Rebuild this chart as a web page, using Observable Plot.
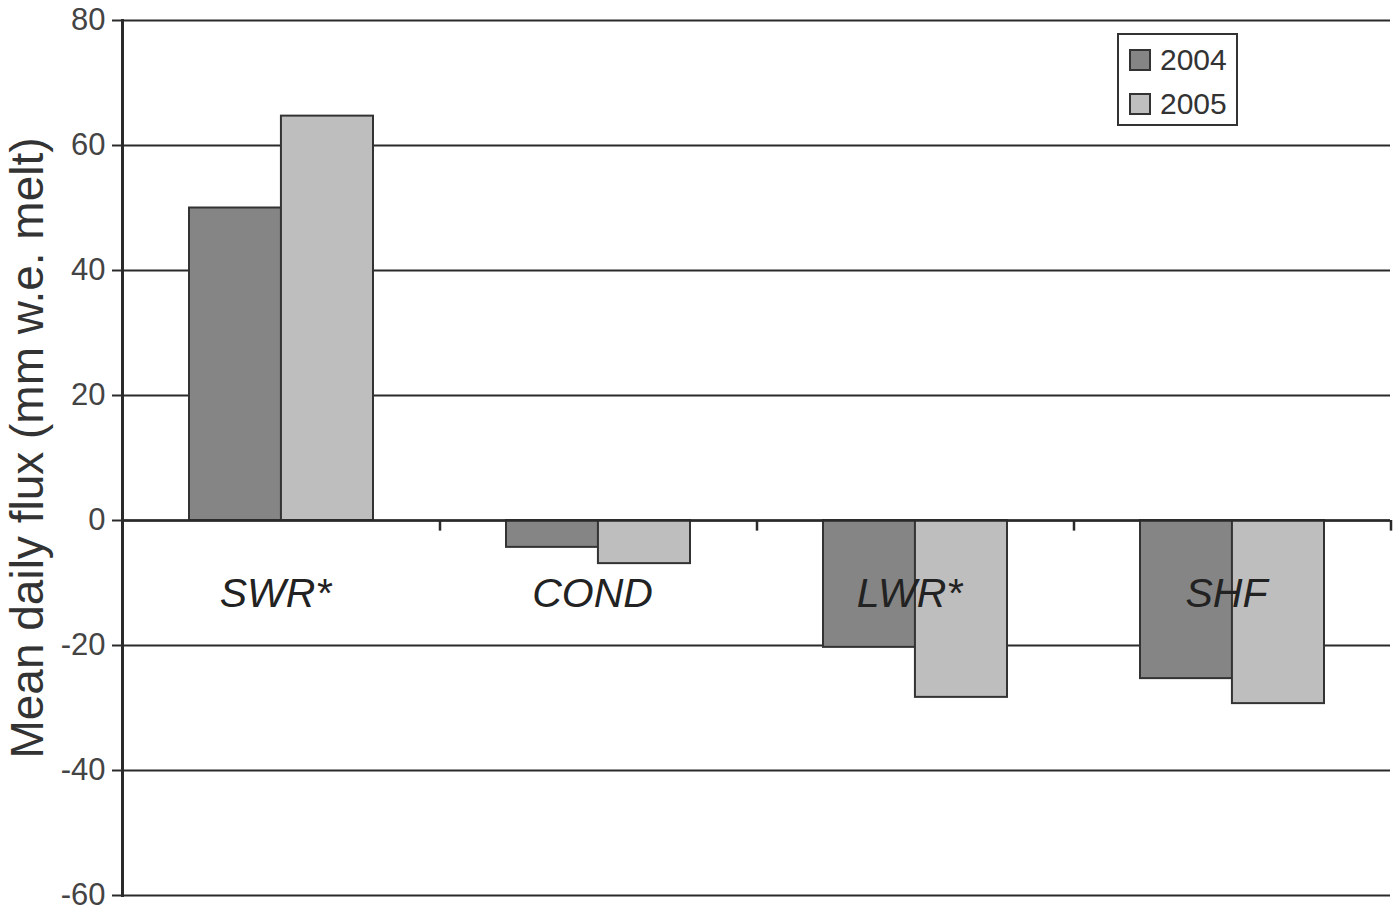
<!DOCTYPE html>
<html>
<head>
<meta charset="utf-8">
<script src="https://cdn.jsdelivr.net/npm/d3@7"></script>
<script src="https://cdn.jsdelivr.net/npm/@observablehq/plot@0.6"></script>
<style>
  html, body { margin: 0; padding: 0; background: #fff; }
  #wrap { position: relative; width: 1400px; height: 912px; font-family: "Liberation Sans", Arial, sans-serif; }
  #legend { position: absolute; left: 1117px; top: 33px; width: 117px; height: 89px; border: 2px solid #333; background: #fff; }
  .item { position: absolute; left: 10px; display: flex; align-items: center; font-size: 30px; color: #333; }
  .sw { width: 18px; height: 18px; border: 2px solid #333; margin-right: 9px; }
</style>
</head>
<body>
<div id="wrap"><div id="legend"></div></div>
<script>
const categories = ["SWR*", "COND", "LWR*", "SHF"];
const years = ["2004", "2005"];
const values2004 = [50.0, -4.3, -20.3, -25.3];
const values2005 = [64.7, -6.9, -28.3, -29.3];
const yTicks = [80, 60, 40, 20, 0, -20, -40, -60];
const yLabel = "Mean daily flux (mm w.e. melt)";
const colors = {"2004": "#858585", "2005": "#bebebe"};

const rows = [];
categories.forEach((c, i) => {
  rows.push({category: c, year: "2004", value: values2004[i]});
  rows.push({category: c, year: "2005", value: values2005[i]});
});

const W = 1400, H = 912;
const mL = 122, mR = 10, mT = 20, mB = 17;
const step = (W - mL - mR) / categories.length;
const pInner = 0.42;
const half = step * (1 - pInner) / 2;

const chart = Plot.plot({
  width: W,
  height: H,
  marginLeft: mL,
  marginRight: mR,
  marginTop: mT,
  marginBottom: mB,
  style: {fontFamily: "'Liberation Sans', Arial, sans-serif", background: "#fff"},
  x: {type: "band", domain: categories, paddingInner: pInner, paddingOuter: pInner / 2, axis: null},
  y: {domain: [-60, 80], axis: null},
  marks: [
    Plot.ruleY(yTicks, {stroke: "#2a2a2a", strokeWidth: 2}),
    Plot.barY(rows.filter(d => d.year === "2004"), {x: "category", y: "value", fill: colors["2004"], stroke: "#333", strokeWidth: 2, insetRight: half}),
    Plot.barY(rows.filter(d => d.year === "2005"), {x: "category", y: "value", fill: colors["2005"], stroke: "#333", strokeWidth: 2, insetLeft: half}),
    Plot.ruleY([0], {stroke: "#2a2a2a", strokeWidth: 2.5}),
    Plot.ruleX(categories, {x: d => d, dx: step / 2, y1: 0, y2: -1.7, stroke: "#2a2a2a", strokeWidth: 2.5}),
    Plot.axisY({ticks: yTicks, tickSize: 10, tickPadding: 7, tickFormat: d => String(d), fontSize: 31, stroke: "#2a2a2a", strokeWidth: 2, color: "#444", label: null}),
    Plot.frame({anchor: "left", stroke: "#2a2a2a", strokeWidth: 3}),
    Plot.text(categories, {x: d => d, y: -11.7, dx: -6, text: d => d, fontSize: 41, fontStyle: "italic", fill: "#222", textAnchor: "middle", lineAnchor: "middle"}),
    Plot.text([yLabel], {frameAnchor: "left", dx: -94, dy: -10, rotate: -90, text: d => d, fontSize: 46, fill: "#333", textAnchor: "middle", lineAnchor: "middle"})
  ]
});
document.getElementById("wrap").prepend(chart);

const legend = document.getElementById("legend");
years.forEach((y, i) => {
  const it = document.createElement("div");
  it.className = "item";
  it.style.top = (8 + i * 44) + "px";
  const sw = document.createElement("div");
  sw.className = "sw";
  sw.style.background = colors[y];
  const t = document.createElement("span");
  t.textContent = y;
  it.appendChild(sw);
  it.appendChild(t);
  legend.appendChild(it);
});
</script>
</body>
</html>
